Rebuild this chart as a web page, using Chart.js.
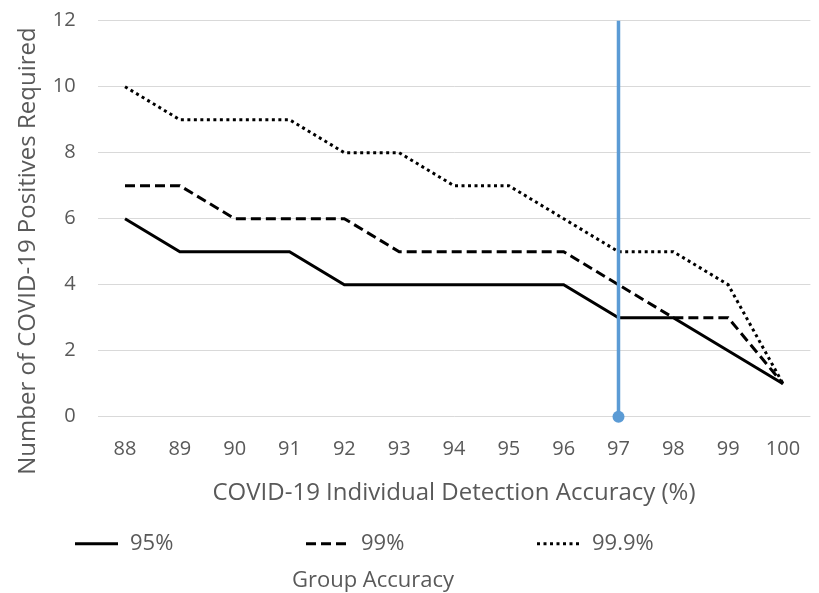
<!DOCTYPE html>
<html>
<head>
<meta charset="utf-8">
<script src="https://cdn.jsdelivr.net/npm/chart.js@4.4.1/dist/chart.umd.min.js"></script>
<style>
  html, body { margin: 0; padding: 0; background: #fff; }
  #wrap { width: 819px; height: 593px; }
</style>
</head>
<body>
<div id="wrap"><canvas id="accuracyChart"></canvas></div>
<script>
// individual detection accuracy (%) on the x axis
const accuracyLabels = ['88', '89', '90', '91', '92', '93', '94', '95', '96', '97', '98', '99', '100'];

// positives required, one array per group accuracy
const group95 = [6, 5, 5, 5, 4, 4, 4, 4, 4, 3, 3, 2, 1];
const group99 = [7, 7, 6, 6, 6, 5, 5, 5, 5, 4, 3, 3, 1];
const group999 = [10, 9, 9, 9, 8, 8, 7, 7, 6, 5, 5, 4, 1];
const groupNames = ['95%', '99%', '99.9%'];

// marker line at 97%
const markerAt = '97';
const markerRange = [0, 12];

const yMax = 12;
const yStep = 2;

const textColor = '#595959';
const fontFamily = '"Open Sans", "DejaVu Sans", sans-serif';

// y title + legend drawn by hand so they sit like the original
const extraText = {
    id: 'extraText',
    afterDraw(chart) {
        const ctx = chart.ctx;
        const area = chart.chartArea;
        const rowY = area.bottom + 127;
        const items = chart.data.datasets.filter(ds => ds.inLegend);
        ctx.save();
        ctx.fillStyle = textColor;
        ctx.textBaseline = 'middle';

        // y axis title
        ctx.save();
        ctx.translate(28, 251);
        ctx.rotate(-Math.PI / 2);
        ctx.textAlign = 'center';
        ctx.font = '24px ' + fontFamily;
        ctx.fillText('Number of COVID-19 Positives Required', 0, 0);
        ctx.restore();

        // legend
        ctx.font = '22px ' + fontFamily;
        items.forEach((ds, i) => {
            const x0 = 75 + i * 231;
            ctx.beginPath();
            ctx.setLineDash(ds.borderDash || []);
            ctx.lineWidth = ds.borderWidth;
            ctx.strokeStyle = ds.borderColor;
            ctx.moveTo(x0, rowY);
            ctx.lineTo(x0 + 43, rowY);
            ctx.stroke();
            ctx.setLineDash([]);
            ctx.fillText(ds.label, x0 + 55, rowY);
        });
        ctx.textAlign = 'center';
        ctx.fillText('Group Accuracy', 373, rowY + 37);
        ctx.restore();
    }
};

function groupLine(label, values, dash) {
    return {
        label: label,
        data: values,
        borderColor: '#000000',
        backgroundColor: '#000000',
        borderWidth: 3,
        borderDash: dash,
        pointRadius: 0,
        tension: 0,
        fill: false,
        inLegend: true,
        order: 1
    };
}

const ctx = document.getElementById('accuracyChart').getContext('2d');
new Chart(ctx, {
    type: 'line',
    data: {
        labels: accuracyLabels,
        datasets: [
            {
                label: 'marker',
                data: markerRange.map(v => ({ x: markerAt, y: v })),
                borderColor: '#5B9BD5',
                backgroundColor: '#5B9BD5',
                borderWidth: 3.5,
                pointRadius: [6, 0],
                pointBorderWidth: 0,
                clip: false,
                order: 0
            },
            groupLine(groupNames[0], group95, []),
            groupLine(groupNames[1], group99, [10, 5]),
            groupLine(groupNames[2], group999, [3, 3.5])
        ]
    },
    options: {
        responsive: true,
        maintainAspectRatio: false,
        animation: false,
        layout: {
            padding: { left: 0, top: 20.7, right: 8.6, bottom: 76.3 }
        },
        plugins: {
            legend: { display: false },
            tooltip: { enabled: false }
        },
        scales: {
            x: {
                offset: true,
                grid: { display: false },
                border: { display: false },
                ticks: {
                    color: textColor,
                    font: { family: fontFamily, size: 20 },
                    padding: 13,
                    maxRotation: 0
                },
                title: {
                    display: true,
                    text: 'COVID-19 Individual Detection Accuracy (%)',
                    color: textColor,
                    font: { family: fontFamily, size: 24 },
                    padding: { top: 0, bottom: 9.3 }
                },
                afterFit(scale) { scale.height = 100; }
            },
            y: {
                min: 0,
                max: yMax,
                grid: { color: '#d9d9d9', lineWidth: 1, drawTicks: false },
                border: { display: false },
                ticks: {
                    stepSize: yStep,
                    color: textColor,
                    font: { family: fontFamily, size: 20 },
                    padding: 22
                },
                afterFit(scale) {
                    scale.width = 97.6;
                    scale.paddingTop = 0;
                    scale.paddingBottom = 0;
                }
            }
        }
    },
    plugins: [extraText]
});
</script>
</body>
</html>
